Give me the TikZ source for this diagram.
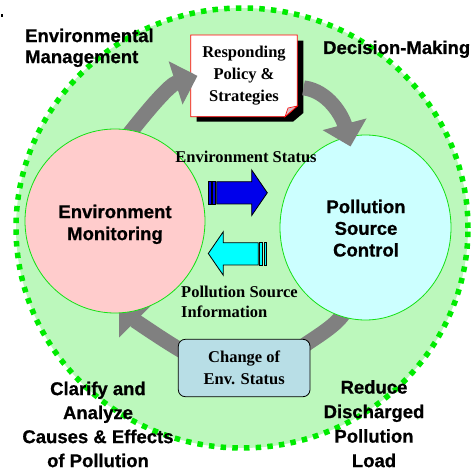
\documentclass[tikz,border=0pt]{standalone}
\usepackage{fontspec}
\setmainfont{Liberation Serif}
\setsansfont{Liberation Sans}[BoldFeatures={FakeBold=0.8}]
\usetikzlibrary{arrows.meta, backgrounds, calc, positioning, shapes.geometric}
\definecolor{ringcol}{RGB}{188, 248, 188}
\definecolor{dotcol}{RGB}{0, 235, 0}
\definecolor{rimcol}{RGB}{20, 225, 20}
\definecolor{moncol}{RGB}{255, 204, 204}
\definecolor{ctrlcol}{RGB}{204, 255, 255}
\definecolor{gyrecol}{RGB}{128, 128, 128}
\definecolor{changecol}{RGB}{184, 222, 230}
\definecolor{statcol}{RGB}{0, 0, 235}
\definecolor{infocol}{RGB}{0, 255, 255}
\definecolor{sheetcol}{RGB}{255, 0, 0}
\definecolor{foldcol}{RGB}{215, 190, 200}
\pgfdeclarelayer{sheet}
\pgfdeclarelayer{track}
\pgfsetlayers{sheet,track,main}
\tikzset{
  ringbox/.style = {ellipse, fill=ringcol, draw=dotcol, line width=5.5pt,
                    dash pattern=on 5.5pt off 6.2pt, inner sep=0pt},
  pool/.style    = {ellipse, draw=rimcol, line width=0.8pt, inner sep=0pt},
  bigtag/.style  = {font=\sffamily\bfseries\fontsize{18.5}{22}\selectfont,
                    align=center, inner sep=0pt},
  captxt/.style  = {font=\rmfamily\bfseries\fontsize{16.5}{22}\selectfont,
                    align=center, inner sep=0pt},
  gyre/.style    = {draw=gyrecol, line width=15pt},
  gyrehead/.style = {gyre, -{Triangle[length=23pt, width=44pt]}},
  block/.style   = {draw=black, line width=0.8pt},
}

\begin{document}
\begin{tikzpicture}[x=1pt, y=-1pt]
  \useasboundingbox (0,0) rectangle (474,470);
  \fill (0.5,14.5) rectangle (3,17);

  \begin{pgfonlayer}{sheet}
    %% ---------------- the ring ----------------
    \node[ringbox, minimum width=452pt, minimum height=440pt] (ring)
         at (242,228) {};

    %% ---------------- policy sheet ----------------
    \fill (196.7,40.7) -- (303.3,40.7) -- (303.3,113) -- (293,121.7)
          -- (196.7,121.7) -- cycle;
    \draw[sheetcol, fill=white, line width=0.8pt] (190.7,35) -- (297.3,35)
          -- (297.3,106) -- (285,116.7) -- (190.7,116.7) -- cycle;
    \draw[sheetcol, fill=foldcol, line width=0.6pt] (297.3,106) -- (288,108)
          -- (285,116.7) -- cycle;
    \node[captxt, minimum width=106.6pt, minimum height=81.7pt] (policy)
         at (244,75.85) {Responding\\Policy \&\\Strategies};
  \end{pgfonlayer}

  %% ---------------- the two pools ----------------
  \node[pool, fill=moncol, minimum width=180pt, minimum height=184pt] (mon)
       at (115,221) {};
  \node[pool, fill=ctrlcol, minimum width=171pt, minimum height=185pt] (ctrl)
       at (365.5,227.5) {};
  \node[bigtag, anchor=north] (monlbl) at (115,204.5) {Environment\\Monitoring};
  \node[bigtag, anchor=north, font=\sffamily\bfseries\fontsize{18.5}{21.7}\selectfont]
       (ctrllbl) at (366,199.5) {Pollution\\Source\\Control};

  %% ---------------- change box ----------------
  \node[captxt, draw=black, line width=0.8pt, fill=changecol,
        rounded corners=7pt, minimum width=131.7pt, minimum height=57.4pt,
        font=\rmfamily\bfseries\fontsize{16.5}{21.7}\selectfont]
       (change) at (244.15,368) {Change of\\Env. Status};

  %% ---------------- the cycle ----------------
  \begin{pgfonlayer}{track}
    \draw[gyrehead] ($(mon.82)+(0,6)$) .. controls +(22,-28) and +(-28,9)
          .. ($(policy.west)+(7,0)$);
    \draw[gyre] ($(ctrl.-104)+(2,-6)$) .. controls +(-8,14) and +(14,-10)
          .. ($(change.east)+(-7,-22)$);
    \draw[gyrehead] ($(change.west)+(6,-16)$) .. controls +(-18,-10) and +(14,14)
          .. ($(mon.center)+(4,84)$);
  \end{pgfonlayer}
  \draw[gyrehead] ($(policy.east)+(6,12)$) .. controls +(25,3) and +(-8,-30)
        .. ($(ctrl.center)+(-15,-81)$);

  %% ---------------- status / information arrows ----------------
  \draw[block, fill=statcol] (216.7,181.7) -- (251.7,181.7) -- (251.7,170)
        -- (267.3,192.8) -- (251.7,215.5) -- (251.7,204) -- (216.7,204) -- cycle;
  \foreach \s in {208.3, 212.5}
    \draw[block, fill=statcol, line width=0.6pt] (\s,181.7) rectangle +(2.8,22.3);
  \draw[block, fill=infocol] (258.3,242.7) -- (223.3,242.7) -- (223.3,231.7)
        -- (208.3,253.5) -- (223.3,275.3) -- (223.3,265) -- (258.3,265) -- cycle;
  \foreach \s in {259.7, 263.9}
    \draw[block, fill=infocol, line width=0.6pt] (\s,242.7) rectangle +(2.8,22.3);

  \node[captxt, anchor=base] (stat) at (246,163) {Environment Status};
  \node[captxt, anchor=north west, align=left,
        font=\rmfamily\bfseries\fontsize{16.5}{20}\selectfont]
       (info) at (181,285.7) {Pollution Source\\Information};

  %% ---------------- corner labels ----------------
  \node[bigtag, anchor=north west, align=left,
        font=\sffamily\bfseries\fontsize{18.5}{21}\selectfont]
       (envman) at (25,28.5) {Environmental\\Management};
  \node[bigtag, anchor=base west] (decide) at (323,54) {Decision-Making};
  \node[bigtag, anchor=north, font=\sffamily\bfseries\fontsize{18.5}{24}\selectfont]
       (clarify) at (98,381.5) {Clarify and\\Analyze\\Causes \& Effects\\of Pollution};
  \node[bigtag, anchor=north, font=\sffamily\bfseries\fontsize{18.5}{24.5}\selectfont]
       (reduce) at (374,380) {Reduce\\Discharged\\Pollution\\Load};

\end{tikzpicture}
\end{document}
